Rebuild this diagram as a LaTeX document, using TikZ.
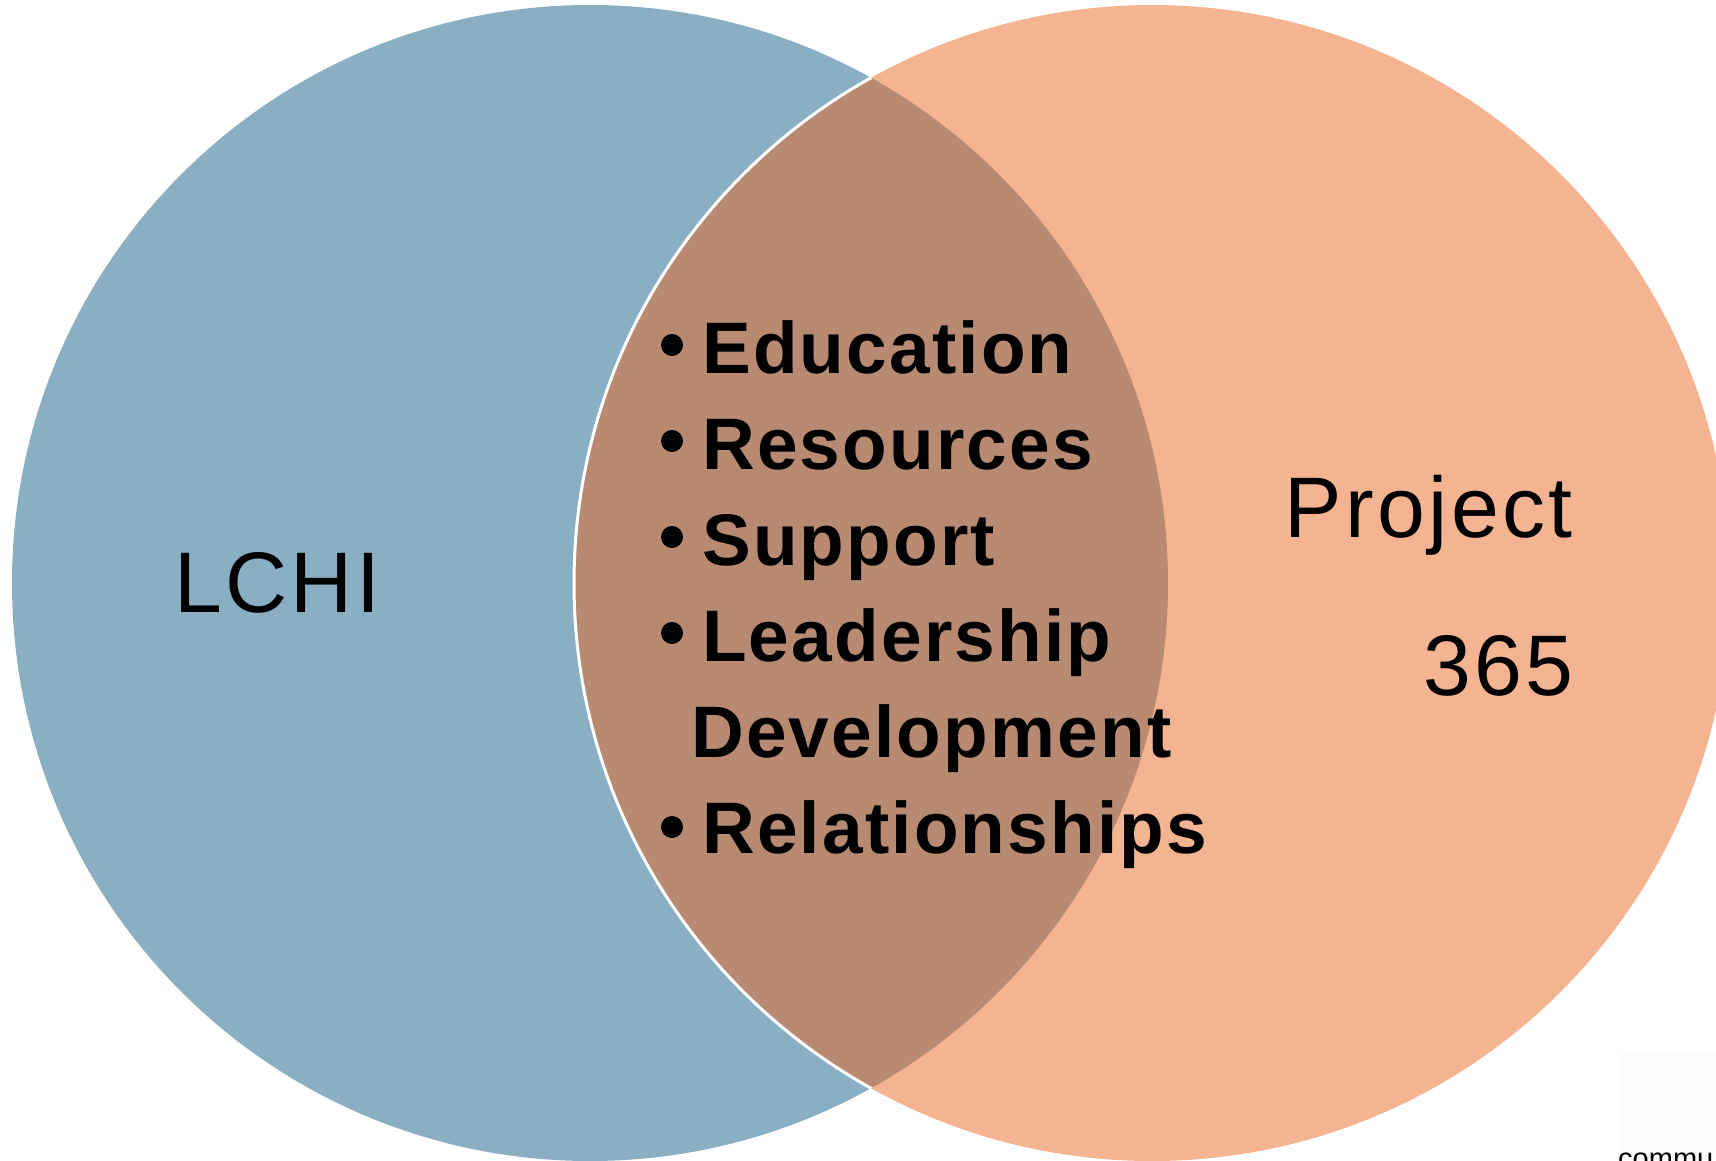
\documentclass[tikz,border=0pt]{standalone}
\usepackage{fontspec}
\setmainfont{Liberation Sans}
\definecolor{lchiblue}{RGB}{138,175,194}
\definecolor{projorange}{RGB}{244,180,146}
\definecolor{overlapbrown}{RGB}{184,138,114}
\definecolor{faintbg}{RGB}{254,252,250}
\begin{document}
\begin{tikzpicture}[x=1pt,y=-1pt,
  biglabel/.style={inner sep=0pt, font=\fontsize{86}{100}\selectfont\addfontfeature{LetterSpace=4}, text=black},
  listitem/.style={inner sep=0pt, anchor=base west, font=\fontsize{73}{88}\selectfont\bfseries\addfontfeature{LetterSpace=3}, text=black},
  bulletdot/.style={circle, fill=black, minimum size=22pt, inner sep=0pt}]
\useasboundingbox (0,0) rectangle (1716,1160);
\begin{scope}
\clip (0,0) rectangle (1716,1160);
% circles
\fill[lchiblue] (590,583) circle[radius=578];
\fill[projorange] (1152,583) circle[radius=578];
\begin{scope}
  \clip (590,583) circle[radius=578];
  \fill[overlapbrown] (1152,583) circle[radius=578];
  \draw[white, line width=3pt] (1152,583) circle[radius=578];
\end{scope}
% faint box and cut-off text
\fill[faintbg] (1618,1050) rectangle (1716,1160);
\node[inner sep=0pt, anchor=base west, font=\fontsize{29}{34}\selectfont] (commu) at (1618,1168) {commu};
\end{scope}
% labels
\node[biglabel, anchor=base west] (lchi) at (174,612) {LCHI};
\node[biglabel, anchor=base east] (project) at (1573,537) {Project};
\node[biglabel, anchor=base east] (num) at (1574,695) {365};
% list
\node[listitem] (edu) at (702,373) {Education};
\node[listitem] (res) at (702,469) {Resources};
\node[listitem] (sup) at (702,565) {Support};
\node[listitem] (lead) at (702,661) {Leadership};
\node[listitem] (dev) at (691,757) {Development};
\node[listitem] (rel) at (702,853) {Relationships};
\node[bulletdot] (b1) at (672,345) {};
\node[bulletdot] (b2) at (672,441) {};
\node[bulletdot] (b3) at (672,537) {};
\node[bulletdot] (b4) at (672,633) {};
\node[bulletdot] (b6) at (672,827) {};
\end{tikzpicture}
\end{document}
